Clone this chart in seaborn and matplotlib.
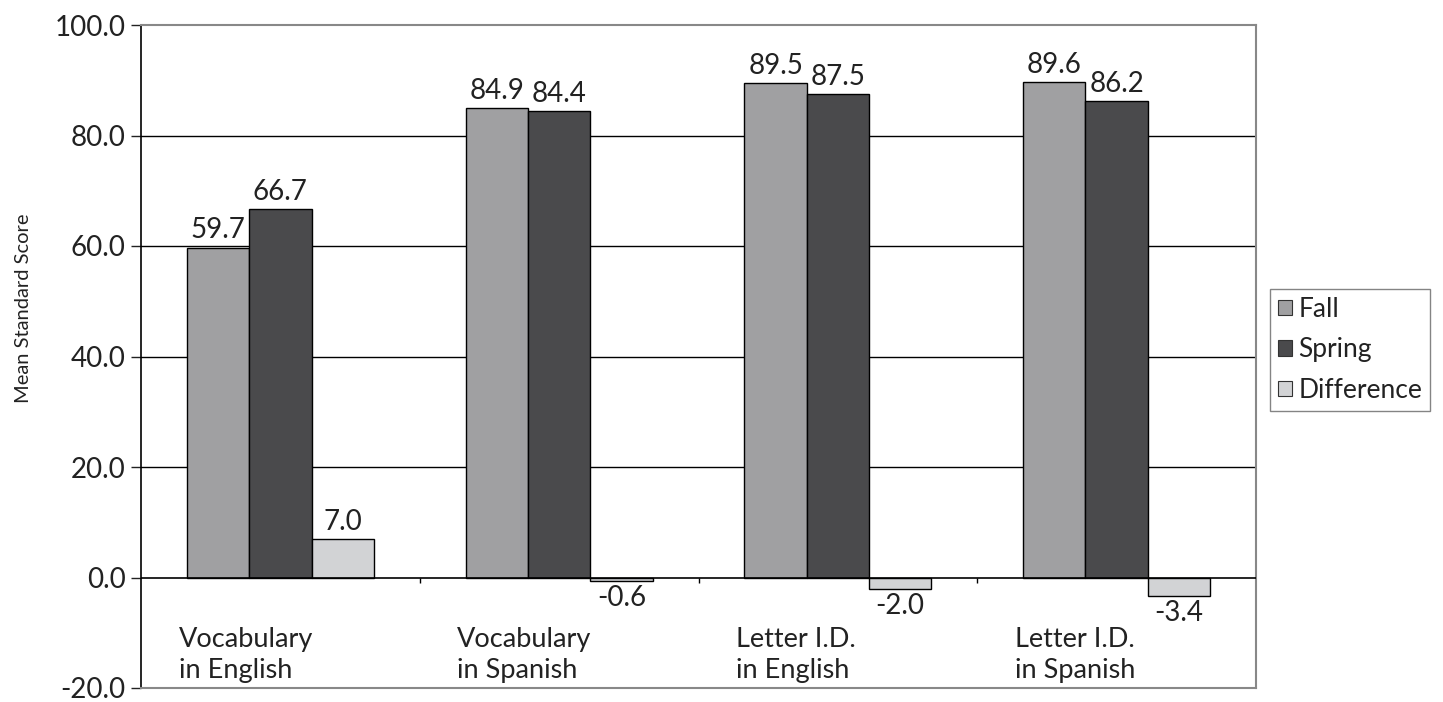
import pandas as pd
import seaborn as sns
import matplotlib.pyplot as plt
from matplotlib.ticker import FormatStrFormatter

categories = ["Vocabulary\nin English", "Vocabulary\nin Spanish", "Letter I.D.\nin English", "Letter I.D.\nin Spanish"]
fall = [59.7, 84.9, 89.5, 89.6]
spring = [66.7, 84.4, 87.5, 86.2]
difference = [7.0, -0.6, -2.0, -3.4]
series = ["Fall", "Spring", "Difference"]
colors = ["#a0a0a2", "#4a4a4c", "#d2d3d5"]

rows = []
for i, c in enumerate(categories):
    rows.append((c, "Fall", fall[i]))
    rows.append((c, "Spring", spring[i]))
    rows.append((c, "Difference", difference[i]))
df = pd.DataFrame(rows, columns=["category", "series", "value"])

sns.set_style("white")
plt.rcParams['font.family'] = ['Lato', 'DejaVu Sans']
txt = "#222222"

fig = plt.figure(figsize=(14.43, 7.02), dpi=100)
ax = fig.add_axes([141 / 1443, 14 / 702, 1115 / 1443, 663 / 702])

sns.barplot(data=df, x="category", y="value", hue="series", hue_order=series,
            palette=colors, width=0.67, edgecolor="black", linewidth=1,
            errorbar=None, ax=ax, zorder=3)

for cont in ax.containers:
    ax.bar_label(cont, fmt="%.1f", fontsize=20, padding=3, color=txt)

ax.set_xlim(-0.5, 3.5)
ax.set_ylim(-20, 100)
ax.set_yticks([-20, 0, 20, 40, 60, 80, 100])
ax.yaxis.set_major_formatter(FormatStrFormatter("%.1f"))
ax.tick_params(axis="y", labelsize=20, length=7, width=1, direction="out",
               left=True, colors=txt, pad=4)
ax.set_xticks([])
ax.set_xlabel("")
ax.set_ylabel("Mean Standard Score", fontsize=14.5, color=txt)
ax.yaxis.set_label_coords(-0.098, 0.573)

for y in [20, 40, 60, 80]:
    ax.axhline(y, color="black", linewidth=1, zorder=1)
ax.axhline(0, color="black", linewidth=1.2, zorder=4)
ax.vlines([0.5, 1.5, 2.5], -1.0, 0, color="black", linewidth=1, zorder=4)

for i, c in enumerate(categories):
    ax.text(i - 0.365, -9.0, c, ha="left", va="top", fontsize=19.5,
            linespacing=1.3, color=txt)

for s in ["top", "right", "bottom"]:
    ax.spines[s].set_color("#888888")
    ax.spines[s].set_linewidth(1.5)
ax.spines["left"].set_color("black")
ax.spines["left"].set_linewidth(1.2)

leg = ax.legend(loc="center left", bbox_to_anchor=(1.013, 0.51), fontsize=19,
                handlelength=0.5, handleheight=0.5, handletextpad=0.25,
                borderpad=0.3, labelspacing=0.6, borderaxespad=0,
                fancybox=False, frameon=True)
leg.get_frame().set_edgecolor("#666666")
leg.get_frame().set_linewidth(1)
for t in leg.get_texts():
    t.set_color(txt)
for h in leg.legend_handles:
    h.set_edgecolor("#333333")
    h.set_linewidth(0.8)

fig.savefig("out.png", dpi=100)
